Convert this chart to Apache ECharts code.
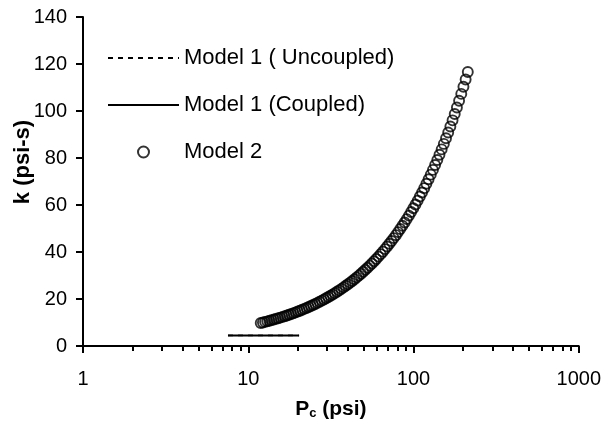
<!DOCTYPE html>
<html>
<head>
<meta charset="utf-8">
<script src="https://cdn.jsdelivr.net/npm/echarts@6/dist/echarts.min.js"></script>
<style>
  html, body { margin: 0; padding: 0; background: #fff; }
  #chart { width: 604px; height: 425px; }
</style>
</head>
<body>
<div id="chart"></div>
<script>
// Confining pressure Pc (psi) and permeability-type coefficient k (psi-s)

// Model 1, uncoupled and coupled solutions (flat segment near k = 4.5)
const uncoupledPc = [7.54, 20.3];
const uncoupledK  = [4.5, 4.5];
const coupledPc   = [7.54, 20.3];
const coupledK    = [4.5, 4.5];

// Model 2 points
const model2Pc = [
  11.90, 12.27, 12.65, 13.04, 13.44, 13.85, 14.28, 14.72, 15.17, 15.64,
  16.12, 16.62, 17.13, 17.66, 18.21, 18.77, 19.35, 19.94, 20.56, 21.19,
  21.84, 22.52, 23.21, 23.93, 24.67, 25.43, 26.21, 27.02, 27.85, 28.71,
  29.60, 30.51, 31.45, 32.42, 33.42, 34.45, 35.52, 36.61, 37.74, 38.90,
  40.10, 41.34, 42.61, 43.93, 45.28, 46.68, 48.12, 49.60, 51.13, 52.71,
  54.33, 56.01, 57.73, 59.51, 61.35, 63.24, 65.20, 67.21, 69.27, 71.41,
  73.61, 75.88, 78.22, 80.63, 83.12, 85.68, 88.33, 91.06, 93.86, 96.75,
  99.74, 102.81, 105.98, 109.25, 112.62, 116.09, 119.68, 123.37, 127.17, 131.09,
  135.13, 139.30, 143.59, 148.02, 152.58, 157.29, 162.15, 167.15, 172.29, 177.61,
  183.08, 188.73, 194.55, 200.55, 206.73, 213.11
];
const model2K = [
  9.80, 10.03, 10.26, 10.50, 10.75, 11.00, 11.26, 11.53, 11.80, 12.09,
  12.38, 12.68, 12.99, 13.31, 13.63, 13.97, 14.31, 14.67, 15.03, 15.41,
  15.79, 16.19, 16.60, 17.02, 17.45, 17.89, 18.35, 18.82, 19.30, 19.80,
  20.31, 20.83, 21.37, 21.93, 22.50, 23.09, 23.69, 24.31, 24.95, 25.61,
  26.28, 26.98, 27.69, 28.43, 29.19, 29.96, 30.77, 31.59, 32.43, 33.30,
  34.20, 35.12, 36.07, 37.04, 38.04, 39.08, 40.14, 41.23, 42.35, 43.50,
  44.69, 45.91, 47.16, 48.46, 49.78, 51.15, 52.56, 54.00, 55.49, 57.02,
  58.59, 60.21, 61.87, 63.59, 65.35, 67.16, 69.03, 70.94, 72.91, 74.94,
  77.03, 79.18, 81.39, 83.66, 85.99, 88.40, 90.87, 93.42, 96.03, 98.73,
  101.49, 104.34, 107.27, 110.29, 113.39, 116.58
];

// Axis ticks
const xMajorTicks = [1, 10, 100, 1000];
const xMinorTicks = [2, 3, 4, 5, 6, 7, 8, 9, 20, 30, 40, 50, 60, 70, 80, 90,
                     200, 300, 400, 500, 600, 700, 800, 900];
const yMin = 0, yMax = 140, yStep = 20;

const seriesNames = ['Model 1 ( Uncoupled)', 'Model 1 (Coupled)', 'Model 2'];

const FONT = '"Liberation Sans", Arial, Helvetica, sans-serif';
const pairs = (xs, ys) => xs.map((x, i) => [x, ys[i]]);

const chart = echarts.init(document.getElementById('chart'), null, { renderer: 'canvas' });

const axisLineStyle = { color: '#000', width: 2 };

chart.setOption({
  animation: false,
  backgroundColor: '#fff',
  textStyle: { fontFamily: FONT, color: '#000' },
  grid: { left: 83, right: 25, top: 17, bottom: 79, containLabel: false },
  legend: {
    orient: 'vertical',
    left: 102,
    top: 42,
    itemWidth: 71,
    itemHeight: 11,
    itemGap: 25,
    data: [
      // line entries show only their stroke, no marker
      { name: seriesNames[0], itemStyle: { opacity: 0 } },
      { name: seriesNames[1], itemStyle: { opacity: 0 } },
      { name: seriesNames[2] }
    ],
    textStyle: { fontFamily: FONT, fontSize: 22, color: '#000' }
  },
  xAxis: [
    {
      type: 'log',
      logBase: 10,
      min: xMajorTicks[0],
      max: xMajorTicks[xMajorTicks.length - 1],
      axisLine: { show: true, lineStyle: axisLineStyle },
      axisTick: { show: true, inside: false, length: 7, customValues: xMajorTicks, lineStyle: axisLineStyle },
      axisLabel: {
        show: true,
        margin: 23,
        fontSize: 20,
        fontFamily: FONT,
        color: '#000',
        customValues: xMajorTicks,
        formatter: v => String(Math.round(v))
      },
      splitLine: { show: false },
      minorTick: { show: false },
      name: '{p|P}{c|c}{p| (psi)}',
      nameLocation: 'middle',
      nameGap: 53,
      nameTextStyle: {
        rich: {
          p: { fontFamily: FONT, fontSize: 21, fontWeight: 'bold', color: '#000', lineHeight: 21 },
          c: { fontFamily: FONT, fontSize: 13, fontWeight: 'bold', color: '#000', lineHeight: 8, verticalAlign: 'bottom' }
        }
      }
    },
    {
      // second bottom axis carrying only the in-decade ticks
      type: 'log',
      logBase: 10,
      min: xMajorTicks[0],
      max: xMajorTicks[xMajorTicks.length - 1],
      position: 'bottom',
      offset: 0,
      axisLine: { show: false },
      axisTick: { show: true, inside: false, length: 5, customValues: xMinorTicks, lineStyle: axisLineStyle },
      axisLabel: { show: false },
      splitLine: { show: false }
    }
  ],
  yAxis: {
    type: 'value',
    min: yMin,
    max: yMax,
    interval: yStep,
    axisLine: { show: true, lineStyle: axisLineStyle },
    axisTick: { show: true, inside: false, length: 7, lineStyle: axisLineStyle },
    axisLabel: { margin: 16, fontSize: 20, fontFamily: FONT, color: '#000' },
    splitLine: { show: false }
  },
  graphic: [
    {
      type: 'text',
      x: 23,
      y: 162,
      rotation: Math.PI / 2,
      style: {
        text: 'k (psi-s)',
        font: 'bold 22px ' + FONT,
        fill: '#000',
        align: 'center',
        verticalAlign: 'middle'
      }
    }
  ],
  series: [
    {
      name: seriesNames[0],
      type: 'line',
      data: pairs(uncoupledPc, uncoupledK),
      symbol: 'none',
      lineStyle: { color: '#000', width: 1.6, type: [5, 5] },
      itemStyle: { color: '#000' },
      z: 2
    },
    {
      name: seriesNames[1],
      type: 'line',
      data: pairs(coupledPc, coupledK),
      symbol: 'none',
      lineStyle: { color: '#000', width: 2, type: 'solid' },
      itemStyle: { color: '#000' },
      z: 3
    },
    {
      name: seriesNames[2],
      type: 'scatter',
      data: pairs(model2Pc, model2K),
      symbol: 'circle',
      symbolSize: 10,
      itemStyle: { color: 'rgba(0,0,0,0)', borderColor: '#000', borderWidth: 1.9 },
      z: 4
    }
  ]
});
</script>
</body>
</html>
